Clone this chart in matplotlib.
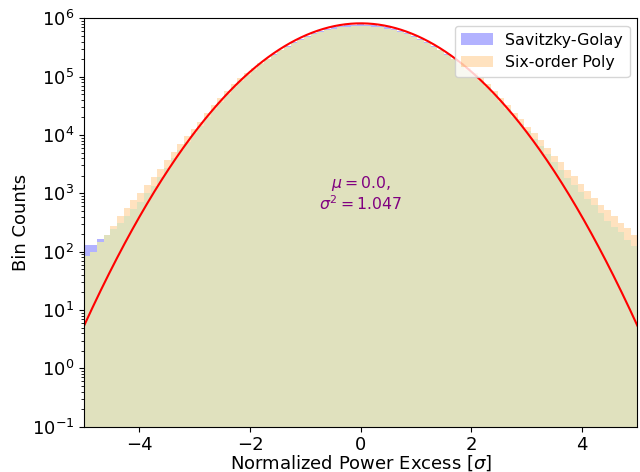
import numpy as np
import matplotlib
matplotlib.use("Agg")
import matplotlib.pyplot as plt

# bin geometry (bins centred on multiples of the bin width)
bin_width = 0.1206
k_index = np.arange(-41, 42)

# Savitzky-Golay bin counts, k = -41 .. 41
sg_counts = [
    129, 129, 167, 194, 240, 316, 404, 538, 702, 1018,
    1346, 1942, 2726, 4048, 5616, 7722, 10647, 14391,
    20300, 27800, 37400, 49700, 65200, 84300,
    105400, 132500, 164300, 201000, 242400, 288300, 338300, 391500,
    446700, 502600, 558400, 611200, 659000, 701500, 736500, 762500, 778600,
    784000,
    778600, 762500, 736500, 701500, 659000, 611200, 558400, 502600, 446700,
    391500, 338300, 288300, 242400, 201000, 164300, 132500, 105400,
    84300, 65200, 49700, 37400, 27800, 20300,
    15700, 11700, 8700, 6450, 4750, 3400, 2500, 1830, 1380, 1050,
    810, 630, 455, 330, 270, 215, 160, 124,
]

# Six-order Poly bin counts, k = -41 .. 41
poly_counts = [
    84, 99, 147, 194, 274, 404, 562, 760, 1018, 1404,
    1907, 2620, 3686, 5031, 7020, 9477, 12636, 16965,
    23800, 32500, 43400, 57200, 74300, 94400,
    117200, 143300, 171100, 203000, 237400, 282400, 324500, 375500,
    428500, 477000, 529900, 580000, 625400, 665700, 698900, 723600, 738800,
    744000,
    738800, 723600, 698900, 665700, 625400, 580000, 529900, 477000, 428500,
    375500, 324500, 282400, 237400, 203000, 171100, 143300, 117200,
    94400, 74300, 57200, 43400, 32500, 23800,
    18500, 13900, 10800, 8100, 6000, 4450, 3400, 2550, 1950, 1460,
    1100, 820, 640, 510, 410, 315, 252, 195,
]

# Gaussian fit parameters
fit_mu = 0.0
fit_sigma2 = 1.047
fit_amp = 8.2e5

edges = (np.append(k_index, k_index[-1] + 1) - 0.5) * bin_width
sg = np.array(sg_counts, dtype=float)
poly = np.array(poly_counts, dtype=float)
overlap = np.minimum(sg, poly)

fig = plt.figure(figsize=(6.4, 4.72), dpi=100)
ax = fig.add_axes([0.1313, 0.096, 0.8647, 0.8652])

ax.stairs(sg, edges, fill=True, color="b", alpha=0.3, linewidth=0,
          label="Savitzky-Golay", baseline=1e-3)
ax.stairs(poly, edges, fill=True, color="darkorange", alpha=0.25, linewidth=0,
          label="Six-order Poly", baseline=1e-3)
ax.stairs(overlap, edges, fill=True, color="#e0e1be", linewidth=0,
          baseline=1e-3)

xx = np.linspace(-5, 5, 600)
ax.plot(xx, fit_amp * np.exp(-(xx - fit_mu) ** 2 / (2 * fit_sigma2)),
        color="red", lw=1.5)

ax.text(0.0, 1.0e3, "$\\mu=0.0$,\n$\\sigma^2=1.047$", color="purple",
        ha="center", va="center", fontsize=11.3, linespacing=1.05)

ax.set_yscale("log")
ax.set_xlim(-5, 5)
ax.set_ylim(1e-1, 1e6)
ax.set_xticks([-4, -2, 0, 2, 4])
ax.tick_params(labelsize=13)
ax.set_xlabel("Normalized Power Excess [$\\sigma$]", fontsize=13, labelpad=-1)
ax.set_ylabel("Bin Counts", fontsize=13, labelpad=1)
ax.legend(loc="upper right", fontsize=11.4)

fig.savefig("out.png", dpi=100)
